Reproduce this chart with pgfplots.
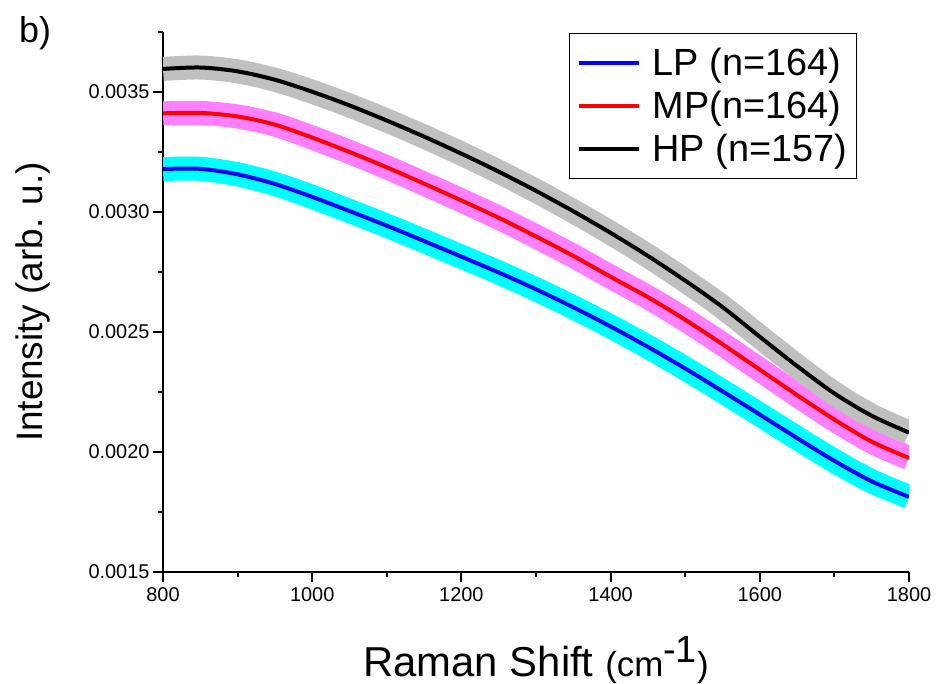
\documentclass[border=0pt]{standalone}
\usepackage{pgfplots}
\pgfplotsset{compat=1.18}
\usepackage{pgfplotstable}
\usepackage{fontspec}
\setmainfont{Liberation Sans}
\definecolor{bandgray}{RGB}{192,192,192}
\definecolor{bandpink}{RGB}{255,128,255}
\definecolor{bandcyan}{RGB}{0,255,255}
\pgfplotstableread{
x lp mp hp
800 0.003179 0.003411 0.003596
850 0.003180 0.003413 0.003602
900 0.003157 0.003398 0.003586
950 0.003117 0.003364 0.003551
1000 0.003063 0.003310 0.003501
1050 0.003004 0.003250 0.003444
1100 0.002943 0.003186 0.003381
1150 0.002879 0.003118 0.003314
1200 0.002814 0.003048 0.003243
1250 0.002748 0.002976 0.003168
1300 0.002678 0.002898 0.003088
1350 0.002603 0.002817 0.003003
1400 0.002523 0.002730 0.002913
1450 0.002438 0.002645 0.002817
1500 0.002348 0.002551 0.002714
1550 0.002253 0.002449 0.002604
1600 0.002156 0.002343 0.002480
1650 0.002058 0.002237 0.002358
1700 0.001963 0.002135 0.002244
1750 0.001878 0.002043 0.002151
1800 0.001813 0.001975 0.002081
}\datatable
\begin{document}
\begin{tikzpicture}
\useasboundingbox (0,0) rectangle (936bp,684bp);
\begin{axis}[
  at={(163bp,112bp)}, anchor=south west,
  scale only axis, width=746bp, height=540bp,
  xmin=800, xmax=1800, ymin=0.0015, ymax=0.00375,
  axis lines=left,
  axis line style={-, line width=2.5bp},
  tick style={line width=2bp, black},
  tick align=outside,
  major tick length=10bp, minor tick length=5bp,
  xtick={800,1000,1200,1400,1600,1800},
  xticklabels={800,1000,1200,1400,1600,1800},
  minor xtick={900,1100,1300,1500,1700},
  ytick={0.0015,0.0020,0.0025,0.0030,0.0035},
  yticklabels={0.0015,0.0020,0.0025,0.0030,0.0035},
  minor ytick={0.00175,0.00225,0.00275,0.00325,0.00375},
  scaled y ticks=false,
  ticklabel style={font=\fontsize{20}{24}\selectfont},
  xticklabel style={yshift=-2bp},
  every axis x label/.style={at={(axis description cs:0.5,-0.194)}, anchor=base},
  every axis y label/.style={at={(axis description cs:-0.162,0.5)}, anchor=base, rotate=90},
  xlabel={{\fontsize{42}{48}\selectfont Raman Shift }{\fontsize{35}{40}\selectfont (cm\raisebox{14bp}{\fontsize{38}{40}\selectfont -1})}},
  ylabel={\fontsize{37}{44}\selectfont Intensity (arb. u.)},
  legend style={at={(0.930,0.998)}, anchor=north east, draw=black, line width=1bp,
    font=\fontsize{38}{44}\selectfont, inner xsep=7bp, inner ysep=13bp, row sep=10bp},
  legend cell align=left,
  legend image code/.code={\draw[#1] (0bp,0bp) -- (60bp,0bp); \path (70bp,0bp);},
]
\addplot[bandcyan, line width=24bp, smooth, forget plot] table[x=x,y=lp] {\datatable};
\addplot[bandpink, line width=24bp, smooth, forget plot] table[x=x,y=mp] {\datatable};
\addplot[bandgray, line width=24bp, smooth, forget plot] table[x=x,y=hp] {\datatable};
\addplot[blue, line width=4bp, smooth] table[x=x,y=lp] {\datatable};
\addplot[red, line width=4bp, smooth] table[x=x,y=mp] {\datatable};
\addplot[black, line width=4bp, smooth] table[x=x,y=hp] {\datatable};
\legend{LP (n=164), MP(n=164), HP (n=157)}
\end{axis}
\node[anchor=base west, font=\fontsize{36}{40}\selectfont, inner sep=0pt] at (19bp,641bp) {b)};
\end{tikzpicture}
\end{document}
